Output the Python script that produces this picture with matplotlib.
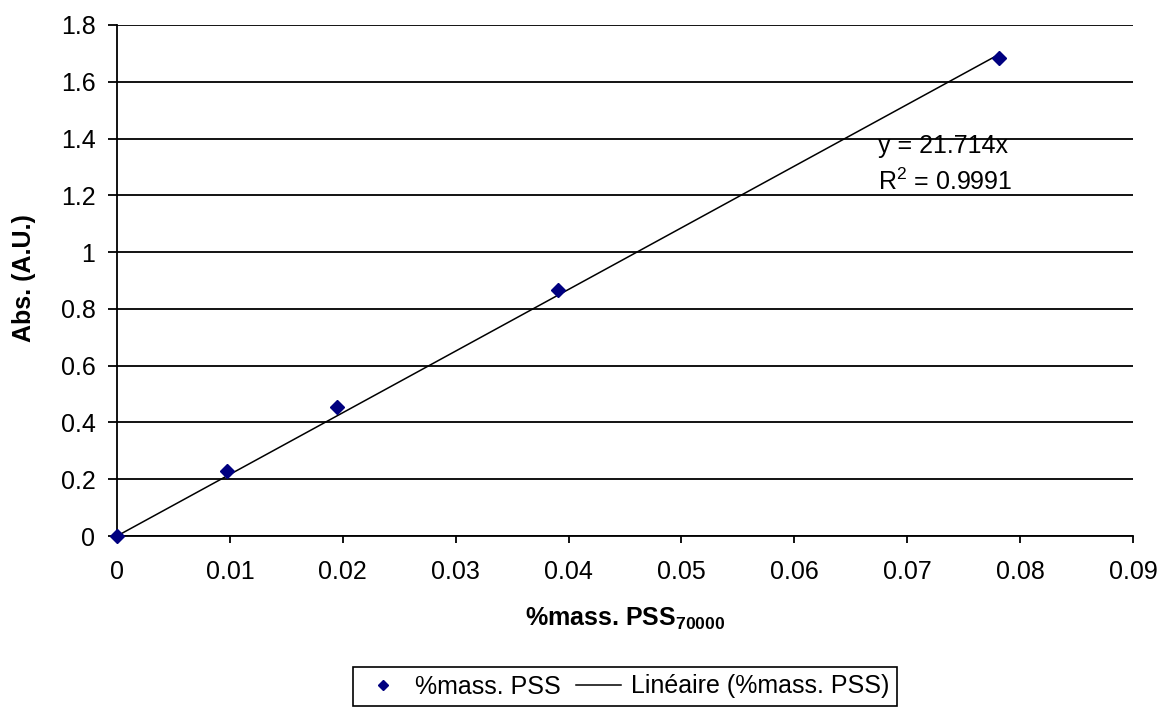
import matplotlib
matplotlib.use("Agg")
import matplotlib.pyplot as plt
from matplotlib.lines import Line2D
import numpy as np

plt.rcParams['font.family'] = ['Liberation Sans', 'DejaVu Sans']
plt.rcParams['mathtext.fontset'] = 'custom'
plt.rcParams['mathtext.rm'] = 'Liberation Sans'
plt.rcParams['mathtext.bf'] = 'Liberation Sans:bold'

x_vals = [0.0, 0.009766, 0.019531, 0.039063, 0.078125]
y_vals = [0.0, 0.228, 0.455, 0.866, 1.683]
slope = 21.714
r2 = 0.9991
x_ticks = [0, 0.01, 0.02, 0.03, 0.04, 0.05, 0.06, 0.07, 0.08, 0.09]
x_tick_labels = ['0', '0.01', '0.02', '0.03', '0.04', '0.05', '0.06', '0.07', '0.08', '0.09']
y_ticks = [0, 0.2, 0.4, 0.6, 0.8, 1.0, 1.2, 1.4, 1.6, 1.8]
y_tick_labels = ['0', '0.2', '0.4', '0.6', '0.8', '1', '1.2', '1.4', '1.6', '1.8']

W, H = 1163, 709
fig = plt.figure(figsize=(W/100, H/100), dpi=100)
ax = fig.add_axes([117/W, 1-536/H, (1133-117)/W, (536-25)/H])

ax.set_xlim(0, 0.09)
ax.set_ylim(0, 1.8)
ax.set_yticks(y_ticks)
ax.set_yticklabels(y_tick_labels)
ax.set_xticks(x_ticks)
ax.set_xticklabels(x_tick_labels)
ax.grid(axis='y', color='black', linewidth=1.3)
ax.set_axisbelow(True)
for s in ['top', 'right']:
    ax.spines[s].set_visible(False)
for s in ['left', 'bottom']:
    ax.spines[s].set_linewidth(1.3)
ax.tick_params(axis='y', direction='out', length=6.5, width=1.3, labelsize=18, pad=9)
ax.tick_params(axis='x', direction='out', length=5, width=1.3, labelsize=18, pad=12)

xf = np.array([0.0, max(x_vals)])
ax.plot(xf, slope * xf, color='black', linewidth=1.1, zorder=3)
ax.plot(x_vals, y_vals, linestyle='none', marker='D', markersize=7.6,
        color='#000080', zorder=4, clip_on=False)

ax.text(0.0674, 1.349, 'y = 21.714x', fontsize=18, va='baseline', ha='left')
ax.text(0.0674, 1.219, r'R$^2$ = 0.9991', fontsize=18, va='baseline', ha='left')

fig.text(24/W, 1-278/H, 'Abs. (A.U.)', fontsize=18, fontweight='bold',
         rotation=90, ha='center', va='center')
fig.text(625/W, 1-626/H, r'%mass. PSS$_\mathbf{70000}$', fontsize=18,
         fontweight='bold', ha='center', va='baseline')

handles = [Line2D([], [], linestyle='none', marker='D', markersize=5, color='#000080'),
           Line2D([], [], color='black', linewidth=1.1)]
leg = fig.legend(handles, ['%mass. PSS', 'Linéaire (%mass. PSS)'], loc='upper center',
                 bbox_to_anchor=(625/W, 1-667/H), ncol=2, fontsize=18,
                 frameon=True, fancybox=False, edgecolor='black', framealpha=1,
                 borderpad=0.3, handlelength=1.8, handletextpad=0.4, columnspacing=0.6,
                 borderaxespad=0)
leg.get_frame().set_linewidth(1.2)

fig.savefig('out.png', dpi=100)
